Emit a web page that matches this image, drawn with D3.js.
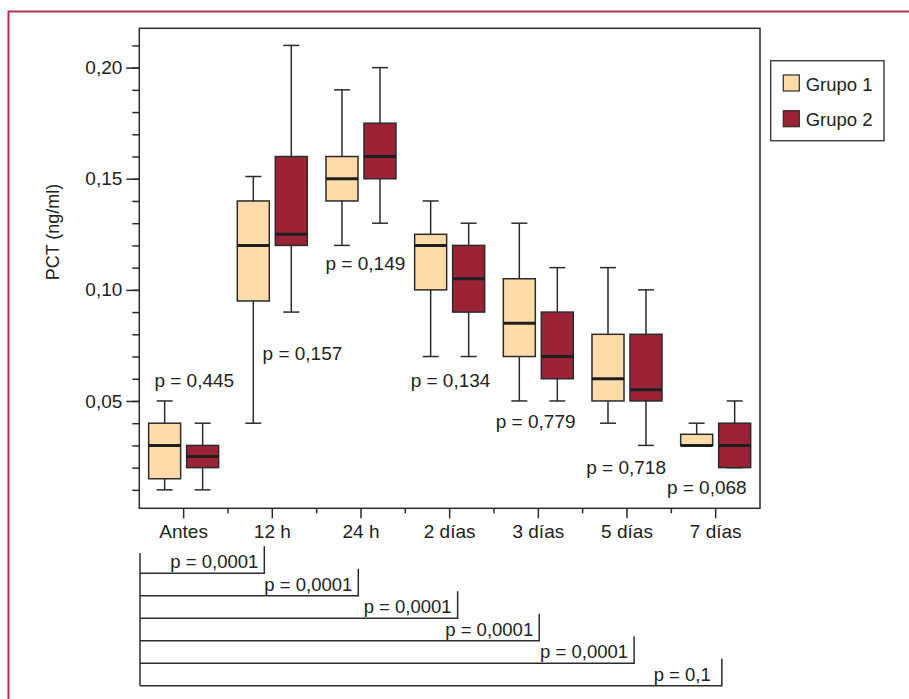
<!DOCTYPE html>
<html>
<head>
<meta charset="utf-8">
<script src="https://cdn.jsdelivr.net/npm/d3@7"></script>
<style>
  html, body { margin: 0; padding: 0; background: #fff; }
  svg { display: block; font-family: 'Liberation Sans', Arial, sans-serif; }
</style>
</head>
<body>
<div class="chart"></div>
<script>
// time points
const categories = ['Antes', '12 h', '24 h', '2 días', '3 días', '5 días', '7 días'];
const groups = ['Grupo 1', 'Grupo 2'];

// box stats per time point: [whisker low, q1, median, q3, whisker high]
const grupo1 = [
  [0.010, 0.015, 0.030, 0.040, 0.050],
  [0.040, 0.095, 0.120, 0.140, 0.151],
  [0.120, 0.140, 0.150, 0.160, 0.190],
  [0.070, 0.100, 0.120, 0.125, 0.140],
  [0.050, 0.070, 0.085, 0.105, 0.130],
  [0.040, 0.050, 0.060, 0.080, 0.110],
  [0.030, 0.030, 0.030, 0.035, 0.040]
];
const grupo2 = [
  [0.010, 0.020, 0.025, 0.030, 0.040],
  [0.090, 0.120, 0.125, 0.160, 0.210],
  [0.130, 0.150, 0.160, 0.175, 0.200],
  [0.070, 0.090, 0.105, 0.120, 0.130],
  [0.050, 0.060, 0.070, 0.090, 0.110],
  [0.030, 0.050, 0.055, 0.080, 0.100],
  [0.020, 0.020, 0.030, 0.040, 0.050]
];

// p values between groups at each time point
const pGroups = ['p = 0,445', 'p = 0,157', 'p = 0,149', 'p = 0,134', 'p = 0,779', 'p = 0,718', 'p = 0,068'];
// where the label sits: value on the y scale and shift in band units
const pGroupsValue = [0.0564, 0.0685, 0.109, 0.0564, 0.0378, 0.0171, 0.0081];
const pGroupsShift = [0.12, 0.34, 0.05, 0.01, -0.03, -0.01, -0.1];

// p values vs Antes, bracket ends on the category index scale
const pAntes = ['p = 0,0001', 'p = 0,0001', 'p = 0,0001', 'p = 0,0001', 'p = 0,0001', 'p = 0,1 '];
const pAntesEnd = [0.91, 1.97, 3.09, 4.01, 5.08, 6.07];

const yTicks = [0.05, 0.10, 0.15, 0.20];

const colors = { 'Grupo 1': '#fedba8', 'Grupo 2': '#9c2237' };
const ink = '#2b2b2b';

const width = 909, height = 699;
const margin = { top: 28.3, right: 149, bottom: 190.7, left: 139.3 };
const plotW = width - margin.left - margin.right;
const plotH = height - margin.top - margin.bottom;

const svg = d3.select('.chart')
  .append('svg')
  .attr('width', width)
  .attr('height', height);

// outer frame
svg.append('path')
  .attr('d', `M8.5,${height + 5}V11.5H${width + 5}`)
  .attr('fill', 'none')
  .attr('stroke', '#b0304f')
  .attr('stroke-width', 2);

const g = svg.append('g').attr('transform', `translate(${margin.left},${margin.top})`);

const x = d3.scaleBand().domain(categories).range([0, plotW]).padding(0);
const y = d3.scaleLinear().domain([0.0017, 0.2177]).range([plotH, 0]);
const xIdx = d3.scaleLinear().domain([0, 6])
  .range([x(categories[0]) + x.bandwidth() / 2, x(categories[6]) + x.bandwidth() / 2]);

const boxW = 32;
const offset = { 'Grupo 1': -19, 'Grupo 2': 19 };
const fmt = d => d3.format('.2f')(d).replace('.', ',');

// y axis: minor ticks, then major ones with labels
const yMinor = d3.range(1, 22).map(i => i / 100);
g.append('g')
  .call(d3.axisLeft(y).tickValues(yMinor).tickSize(7).tickFormat(''))
  .call(a => a.select('.domain').remove())
  .call(a => a.selectAll('line').attr('stroke', ink).attr('stroke-width', 1.5));

g.append('g')
  .call(d3.axisLeft(y).tickValues(yTicks).tickSize(13).tickPadding(4).tickFormat(fmt))
  .call(a => a.select('.domain').remove())
  .call(a => a.selectAll('line').attr('stroke', ink).attr('stroke-width', 1.5))
  .call(a => a.selectAll('text').attr('font-size', 19).attr('fill', '#222').attr('font-family', 'Liberation Sans, Arial, sans-serif'));

// x axis
g.append('g')
  .attr('transform', `translate(0,${plotH})`)
  .call(d3.axisBottom(x).tickSize(10).tickPadding(6))
  .call(a => a.select('.domain').remove())
  .call(a => a.selectAll('line').attr('stroke', ink).attr('stroke-width', 1.5))
  .call(a => a.selectAll('text').attr('font-size', 19).attr('fill', '#222').attr('font-family', 'Liberation Sans, Arial, sans-serif'));

g.append('g')
  .attr('class', 'x-minor')
  .selectAll('line')
  .data(categories.slice(1))
  .enter().append('line')
  .attr('x1', d => x(d)).attr('x2', d => x(d))
  .attr('y1', plotH).attr('y2', plotH + 5)
  .attr('stroke', ink).attr('stroke-width', 1.5);

// boxes
const boxData = [];
categories.forEach((c, i) => {
  boxData.push({ cat: c, group: 'Grupo 1', s: grupo1[i] });
  boxData.push({ cat: c, group: 'Grupo 2', s: grupo2[i] });
});

const box = g.append('g')
  .attr('class', 'boxes')
  .selectAll('g')
  .data(boxData)
  .enter().append('g')
  .attr('transform', d => `translate(${x(d.cat) + x.bandwidth() / 2 + offset[d.group]},0)`);

box.append('line')
  .attr('y1', d => y(d.s[0])).attr('y2', d => y(d.s[4]))
  .attr('stroke', ink).attr('stroke-width', 1.5);

box.selectAll('.cap')
  .data(d => [d.s[0], d.s[4]])
  .enter().append('line')
  .attr('class', 'cap')
  .attr('x1', -8).attr('x2', 8)
  .attr('y1', v => y(v)).attr('y2', v => y(v))
  .attr('stroke', ink).attr('stroke-width', 1.5);

box.append('rect')
  .attr('x', -boxW / 2)
  .attr('width', boxW)
  .attr('y', d => y(d.s[3]))
  .attr('height', d => y(d.s[1]) - y(d.s[3]))
  .attr('fill', d => colors[d.group])
  .attr('stroke', ink)
  .attr('stroke-width', 1.5);

box.append('line')
  .attr('x1', -boxW / 2).attr('x2', boxW / 2)
  .attr('y1', d => y(d.s[2])).attr('y2', d => y(d.s[2]))
  .attr('stroke', '#1e1e1e').attr('stroke-width', 3);

// p values between groups
g.append('g')
  .selectAll('text')
  .data(pGroups)
  .enter().append('text')
  .attr('x', (d, i) => x(categories[i]) + x.bandwidth() * (0.5 + pGroupsShift[i]))
  .attr('y', (d, i) => y(pGroupsValue[i]))
  .attr('text-anchor', 'middle')
  .attr('font-size', 19)
  .attr('fill', '#222')
  .text(d => d);

// plot frame
g.append('rect')
  .attr('width', plotW)
  .attr('height', plotH)
  .attr('fill', 'none')
  .attr('stroke', ink)
  .attr('stroke-width', 1.5);

// y title
g.append('text')
  .attr('transform', `translate(${58.5 - margin.left},${232 - margin.top}) rotate(-90)`)
  .attr('text-anchor', 'middle')
  .attr('font-size', 18)
  .attr('fill', '#222')
  .text('PCT (ng/ml)');

// brackets vs Antes
const bTop = plotH + 65;
const bStep = 22.5;
const brackets = g.append('g').attr('class', 'brackets');

brackets.append('line')
  .attr('x1', 0.7).attr('x2', 0.7)
  .attr('y1', plotH + 44.7).attr('y2', bTop + bStep * (pAntes.length - 1))
  .attr('stroke', ink).attr('stroke-width', 1.5);

const br = brackets.selectAll('g')
  .data(pAntes)
  .enter().append('g');

br.append('path')
  .attr('d', (d, i) => {
    const yy = bTop + bStep * i;
    const xe = xIdx(pAntesEnd[i]);
    return `M0.7,${yy}H${xe}V${yy - 27}`;
  })
  .attr('fill', 'none')
  .attr('stroke', ink)
  .attr('stroke-width', 1.5);

br.append('text')
  .attr('x', (d, i) => xIdx(pAntesEnd[i]) - 6)
  .attr('y', (d, i) => bTop + bStep * i - 5)
  .attr('text-anchor', 'end')
  .attr('font-size', 18.5)
  .attr('fill', '#222')
  .attr('xml:space', 'preserve')
  .style('white-space', 'pre')
  .text(d => d);

// legend
const legend = svg.append('g').attr('transform', 'translate(770.7,60.7)');
legend.append('rect')
  .attr('width', 113.3)
  .attr('height', 80)
  .attr('fill', '#fff')
  .attr('stroke', '#444')
  .attr('stroke-width', 1.5);

const item = legend.selectAll('.item')
  .data(groups)
  .enter().append('g')
  .attr('class', 'item')
  .attr('transform', (d, i) => `translate(12.6,${14.3 + i * 35.7})`);

item.append('rect')
  .attr('width', 16).attr('height', 16)
  .attr('fill', d => colors[d])
  .attr('stroke', ink).attr('stroke-width', 1.2);

item.append('text')
  .attr('x', 22.4)
  .attr('y', 15.7)
  .attr('font-size', 18.5)
  .attr('fill', '#222')
  .text(d => d);
</script>
</body>
</html>
